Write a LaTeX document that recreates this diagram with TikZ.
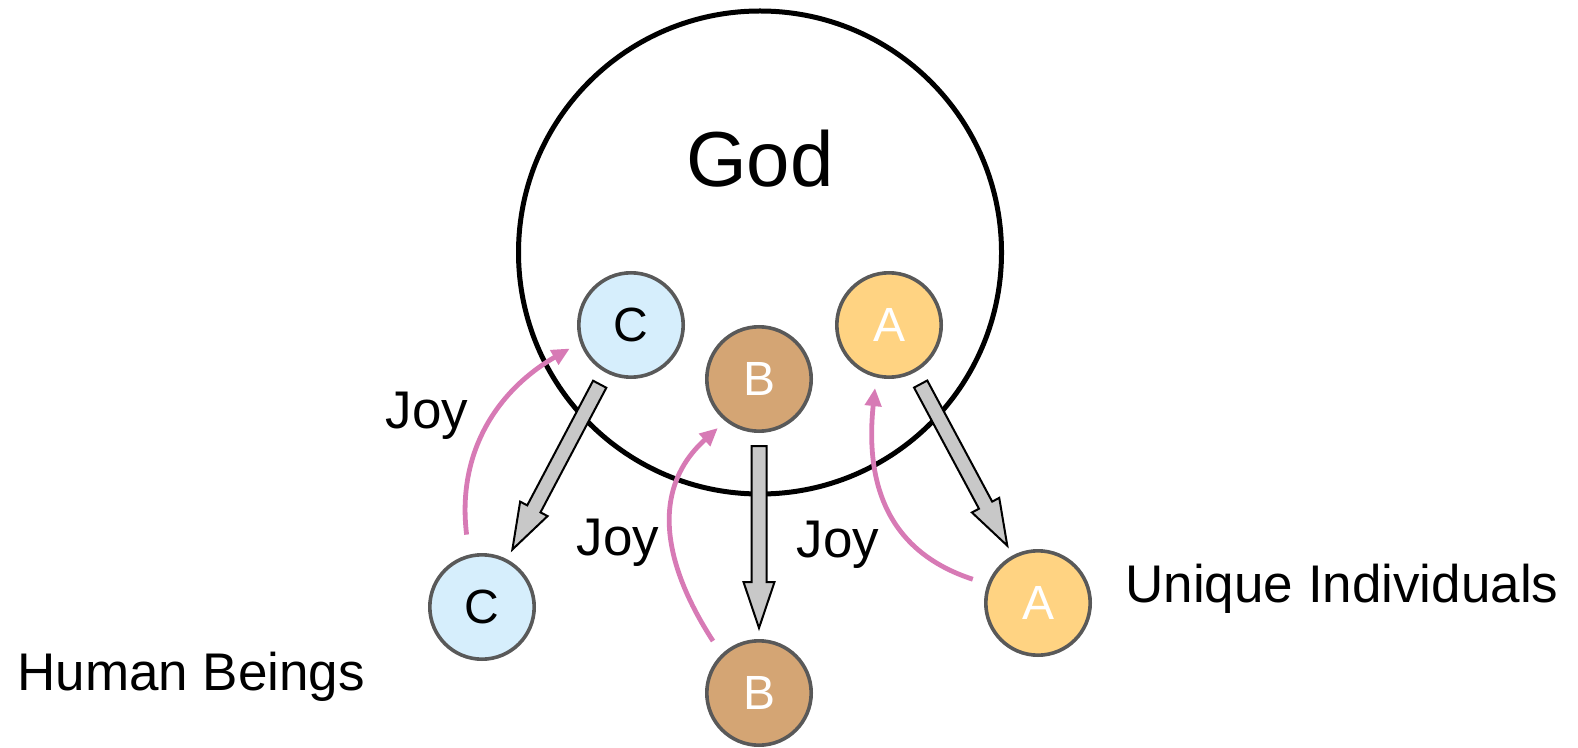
\documentclass[tikz,border=0pt]{standalone}
\usepackage{fontspec}
\setmainfont{Liberation Sans}
\usepackage{xcolor}
\usetikzlibrary{calc,arrows.meta}

\definecolor{cfill}{RGB}{214,238,252}
\definecolor{bfill}{RGB}{212,165,116}
\definecolor{afill}{RGB}{255,211,130}
\definecolor{ringgray}{RGB}{89,89,89}
\definecolor{joypink}{RGB}{215,122,181}
\definecolor{blockgray}{RGB}{200,200,200}

\begin{document}
\begin{tikzpicture}[
			x=0.5pt, y=-0.5pt,
			every node/.style={align=center},
			heaven/.style={circle, draw=black, line width=2.5pt, minimum size=241.5pt, inner sep=0pt},
			soul/.style={circle, draw=ringgray, line width=1.8pt, minimum size=52.2pt, inner sep=0pt,
				font=\fontsize{24pt}{28pt}\selectfont},
			cnode/.style={soul, fill=cfill, text=black},
			bnode/.style={soul, fill=bfill, text=white},
			anode/.style={soul, fill=afill, text=white},
			txt/.style={font=\fontsize{26.5pt}{32pt}\selectfont, inner sep=0pt},
			flow/.style={draw=joypink, line width=2.4pt, -{Triangle[length=9pt,width=8pt]}},
			block/.style={draw=black, fill=blockgray, line width=1pt, line join=miter},
			]
			
			\useasboundingbox (0,0) rectangle (1578,748);
			
			\node[heaven] (god) at (760,252.5) {};
			\node[anchor=base, inner sep=0pt, font=\fontsize{39pt}{46pt}\selectfont] (godtxt) at (760,187) {God};
			
			% inside
			\node[cnode] (cIn) at (631,325) {C};
			\node[bnode] (bIn) at (759,379) {B};
			\node[anode] (aIn) at (889,325) {A};
			
			% outside
			\node[cnode] (cOut) at (482,607) {C};
			\node[bnode] (bOut) at (759,693) {B};
			\node[anode] (aOut) at (1038,603) {A};
			
			\node[txt, anchor=base west] (human) at (17,690) {Human Beings};
			\node[txt, anchor=base west] (unique) at (1125,602) {Unique Individuals};
			\node[txt, anchor=base] (joyc) at (427,428) {Joy};
			\node[txt, anchor=base] (joyb) at (618,555) {Joy};
			\node[txt, anchor=base] (joya) at (838,557) {Joy};
			
			% block arrows
			\foreach \p/\q in {cIn/cOut,bIn/bOut,aIn/aOut}{
				\path ($(\p)!33.5pt!(\q)$) coordinate (s)
				($(\q)!32.5pt!(\p)$) coordinate (e);
				\path ($(e)!23pt!(s)$) coordinate (h);
				\draw[block] ($(s)!3.75pt!90:(e)$) -- ($(h)!3.75pt!90:(e)$) -- ($(h)!7.75pt!90:(e)$)
				-- (e) -- ($(h)!7.75pt!-90:(e)$) -- ($(h)!3.75pt!-90:(e)$) -- ($(s)!3.75pt!-90:(e)$) -- cycle;
			}
			
			% joy
			\draw[flow] ($(cOut)+(102:37pt)$) to[out=97,in=210] ($(cIn)+(201:32.8pt)$);
			\draw[flow] ($(bOut)+(131.5:34.7pt)$) to[out=123,in=222,looseness=1.1] ($(bIn)+(230:32pt)$);
			\draw[flow] ($(aOut)+(160:34.7pt)$) to[out=162,in=264,looseness=1.1] ($(aIn)+(257.5:32.3pt)$);
			
		\end{tikzpicture}
\end{document}
